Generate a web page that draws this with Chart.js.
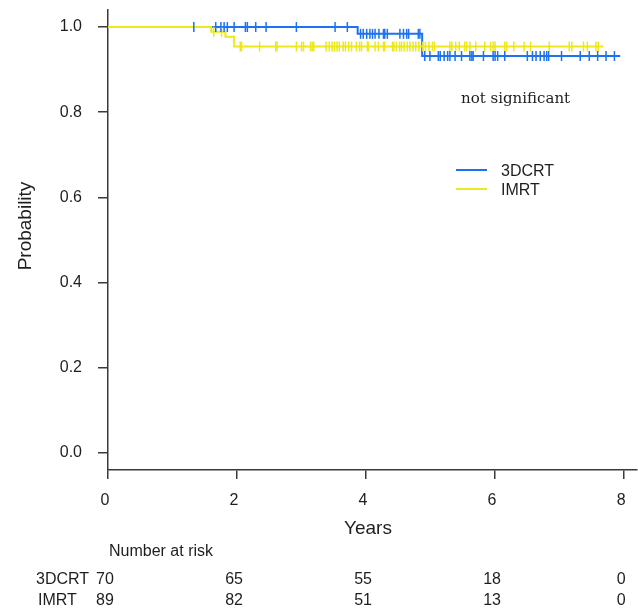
<!DOCTYPE html>
<html>
<head>
<meta charset="utf-8">
<script src="https://cdn.jsdelivr.net/npm/chart.js@4.4.1/dist/chart.umd.min.js"></script>
<style>
  body { margin: 0; background: #fff; }
  #wrap { width: 638px; height: 608px; }
</style>
</head>
<body>
<div id="wrap"><canvas id="km" width="638" height="608"></canvas></div>
<script>
'use strict';

// axis ticks and risk table
const xTicks = [0, 2, 4, 6, 8];
const yTicks = [0, 0.2, 0.4, 0.6, 0.8, 1.0];
const groupNames = ['3DCRT', 'IMRT'];
const risk3DCRT = [70, 65, 55, 18, 0];
const riskIMRT = [89, 82, 51, 13, 0];

// 3DCRT curve: event times, survival after each event, last follow-up
const crtEvents = [3.87, 4.87];
const crtSurv = [0.984, 0.932];
const crtLast = 7.94;
const crtCensor = [1.33, 1.67, 1.75, 1.80, 1.85, 1.955, 2.13, 2.16, 2.29, 2.45, 2.92, 3.52, 3.71,
  3.915, 3.956, 4.01, 4.06, 4.10, 4.14, 4.20, 4.27, 4.29, 4.33, 4.525, 4.58, 4.63, 4.66, 4.81, 4.835,
  4.91, 4.99, 5.12, 5.15, 5.21, 5.265, 5.30, 5.38, 5.48, 5.61, 5.64, 5.66, 5.82, 5.97, 6.00, 6.04, 6.15,
  6.50, 6.58, 6.635, 6.70, 6.76, 6.80, 6.83, 7.03, 7.32, 7.46, 7.59, 7.72, 7.85];

// IMRT curve
const imrtEvents = [1.60, 1.82, 1.955];
const imrtSurv = [0.9888, 0.9773, 0.9543];
const imrtLast = 7.68;
const imrtCensor = [1.64, 1.76, 2.05, 2.07, 2.35, 2.60, 2.62, 2.92, 3.00, 3.03, 3.14, 3.165, 3.19,
  3.38, 3.43, 3.475, 3.51, 3.55, 3.585, 3.645, 3.68, 3.73, 3.775, 3.85, 3.90, 3.93, 4.02, 4.035,
  4.14, 4.19, 4.27, 4.29, 4.41, 4.43, 4.47, 4.52, 4.55, 4.59, 4.64, 4.68, 4.73, 4.77, 4.82, 4.88,
  4.92, 4.975, 5.03, 5.06, 5.30, 5.33, 5.39, 5.445, 5.53, 5.56, 5.61, 5.70, 5.84, 5.93, 5.97, 6.00,
  6.15, 6.18, 6.29, 6.45, 6.55, 6.84, 7.15, 7.19, 7.37, 7.43, 7.565, 7.60];

const blue = '#1c72f2';
const yellow = '#ece81c';
const axisColor = '#3a3a3a';
const textColor = '#1e1e1e';

function stepPoints(events, surv, last) {
  const pts = [{ x: 0, y: 1 }];
  events.forEach((t, i) => pts.push({ x: t, y: surv[i] }));
  pts.push({ x: last, y: surv[surv.length - 1] });
  return pts;
}

// level of the step curve at time t
function survAt(events, surv, t) {
  let s = 1;
  events.forEach((e, i) => { if (t >= e) s = surv[i]; });
  return s;
}

const censorPoints = (times, events, surv) => times.map(t => ({ x: t, y: survAt(events, surv, t) }));

// ---- extra text: axis titles, legend, risk table ----
const annotations = {
  id: 'annotations',
  afterDraw(chart) {
    const ctx = chart.ctx;
    const xs = chart.scales.x;
    ctx.save();
    ctx.fillStyle = textColor;

    // axis titles
    ctx.font = '19px "Liberation Sans", Arial, sans-serif';
    ctx.textAlign = 'center';
    ctx.textBaseline = 'middle';
    ctx.fillText('Years', 368, 529);
    ctx.save();
    ctx.translate(26, 226);
    ctx.rotate(-Math.PI / 2);
    ctx.fillText('Probability', 0, 0);
    ctx.restore();

    // p-value note
    ctx.font = '15px "DejaVu Serif", serif';
    ctx.textAlign = 'left';
    ctx.fillText('not significant', 461, 99);

    // legend
    ctx.lineWidth = 2;
    [[blue, 170], [yellow, 189]].forEach(([c, y], i) => {
      ctx.strokeStyle = c;
      ctx.beginPath();
      ctx.moveTo(456, y);
      ctx.lineTo(487, y);
      ctx.stroke();
      ctx.font = '16px "Liberation Sans", Arial, sans-serif';
      ctx.fillText(groupNames[i], 501, y + 2);
    });

    // number at risk
    ctx.font = '16px "Liberation Sans", Arial, sans-serif';
    ctx.textAlign = 'left';
    ctx.fillText('Number at risk', 109, 552);
    ctx.fillText(groupNames[0], 36, 580);
    ctx.fillText(groupNames[1], 38, 601);
    ctx.textAlign = 'center';
    xTicks.forEach((t, i) => {
      const px = xs.getPixelForValue(t) - 3;
      ctx.fillText(String(risk3DCRT[i]), px, 580);
      ctx.fillText(String(riskIMRT[i]), px, 601);
    });
    ctx.restore();
  }
};

new Chart(document.getElementById('km'), {
  type: 'line',
  data: {
    datasets: [
      {
        label: groupNames[0], data: stepPoints(crtEvents, crtSurv, crtLast),
        borderColor: blue, borderWidth: 2, stepped: 'before', pointRadius: 0, order: 4
      },
      {
        label: groupNames[1], data: stepPoints(imrtEvents, imrtSurv, imrtLast),
        borderColor: yellow, borderWidth: 2, stepped: 'before', pointRadius: 0, order: 3
      },
      {
        label: 'IMRT censored', data: censorPoints(imrtCensor, imrtEvents, imrtSurv),
        showLine: false, pointStyle: 'line', rotation: 90, pointRadius: 5,
        borderColor: yellow, borderWidth: 1.5, order: 2
      },
      {
        label: '3DCRT censored', data: censorPoints(crtCensor, crtEvents, crtSurv),
        showLine: false, pointStyle: 'line', rotation: 90, pointRadius: 5,
        borderColor: blue, borderWidth: 1.5, order: 1
      }
    ]
  },
  options: {
    responsive: false,
    animation: false,
    devicePixelRatio: 1,
    layout: { autoPadding: false, padding: { top: 10, right: 1, left: 0, bottom: 0 } },
    plugins: { legend: { display: false }, tooltip: { enabled: false } },
    scales: {
      x: {
        type: 'linear', min: 0, max: 8.2,
        afterBuildTicks: s => { s.ticks = xTicks.map(v => ({ value: v })); },
        afterFit: s => { s.height = 138; s.paddingLeft = 0; s.paddingRight = 0; },
        grid: { drawOnChartArea: false, drawTicks: true, tickLength: 9, color: axisColor, lineWidth: 1.5 },
        border: { display: true, color: axisColor, width: 1.5 },
        ticks: {
          color: textColor, padding: 12, labelOffset: -3, maxRotation: 0,
          font: { family: '"Liberation Sans", Arial, sans-serif', size: 16 }
        }
      },
      y: {
        type: 'linear', min: -0.04, max: 1.04,
        afterBuildTicks: s => { s.ticks = yTicks.map(v => ({ value: v })); },
        afterFit: s => { s.width = 108; s.paddingTop = 0; s.paddingBottom = 0; },
        grid: { drawOnChartArea: false, drawTicks: true, tickLength: 10, color: axisColor, lineWidth: 1.5 },
        border: { display: true, color: axisColor, width: 1.5 },
        ticks: {
          color: textColor, padding: 16,
          callback: v => Number(v).toFixed(1),
          font: { family: '"Liberation Sans", Arial, sans-serif', size: 16 }
        }
      }
    }
  },
  plugins: [annotations]
});
</script>
</body>
</html>
